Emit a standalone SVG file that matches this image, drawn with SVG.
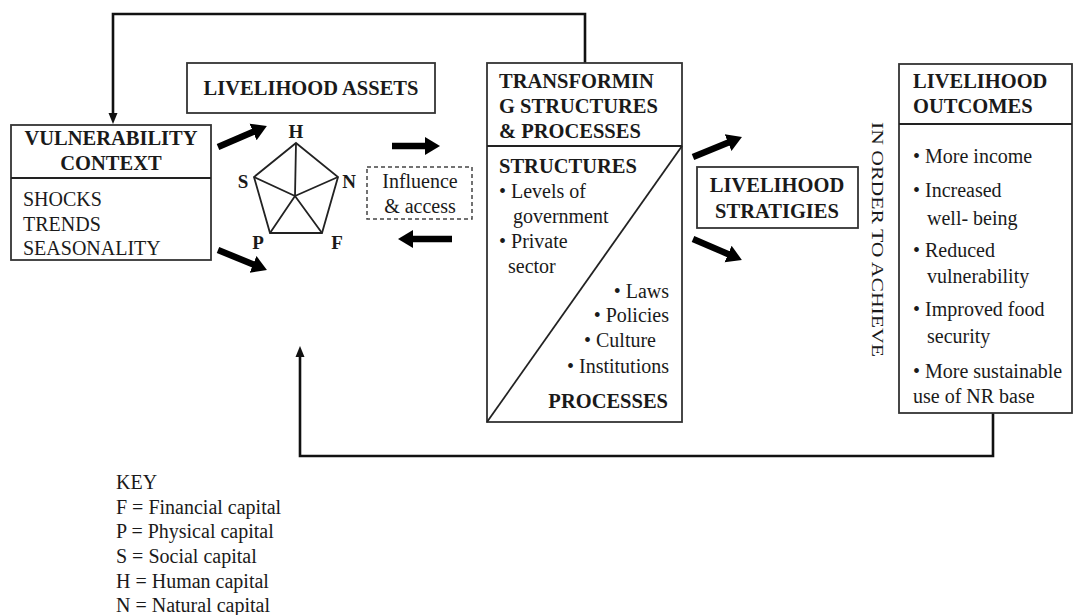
<svg xmlns="http://www.w3.org/2000/svg" width="1075" height="615" viewBox="0 0 1075 615">
<style>
text{font-family:"Liberation Serif","Times New Roman",serif;fill:#1a1a1a}
.b{font-weight:bold;font-size:20.5px}
.r{font-size:20px}
.lab{font-weight:bold;font-size:19px}
.box{fill:#fff;stroke:#333;stroke-width:1.8}
.ln{fill:none;stroke:#222;stroke-width:1.8}
.conn{fill:none;stroke:#111;stroke-width:2.6}
.thick{stroke:#000;stroke-width:6.5;marker-end:url(#big)}
.mid{text-anchor:middle}
.end{text-anchor:end}
</style>
<defs>
<marker id="big" markerUnits="userSpaceOnUse" markerWidth="16" markerHeight="20" refX="1" refY="10" orient="auto">
<path d="M0,1 L15,10 L0,19 z" fill="#000"/>
</marker>
<marker id="sm" markerUnits="userSpaceOnUse" markerWidth="12" markerHeight="10" refX="2" refY="5" orient="auto">
<path d="M0,0.5 L11,5 L0,9.5 z" fill="#111"/>
</marker>
</defs>
<rect width="1075" height="615" fill="#fff"/>

<g id="connectors">
<path class="conn" d="M585,63 V14 H113 V115" marker-end="url(#sm)"/>
<path class="conn" d="M993,413 V456 H300 V355" marker-end="url(#sm)"/>
<line class="thick" x1="218" y1="147" x2="254" y2="131.6"/>
<line class="thick" x1="218" y1="250" x2="254" y2="264.7"/>
<line class="thick" x1="392" y1="146" x2="426" y2="146"/>
<line class="thick" x1="452" y1="239" x2="412" y2="239"/>
<line class="thick" x1="693" y1="157" x2="729" y2="142.3"/>
<line class="thick" x1="693" y1="239" x2="729" y2="254.4"/>
</g>

<g id="vulnerability">
<rect class="box" x="11" y="125" width="200" height="135"/>
<line class="ln" x1="11" y1="178" x2="211" y2="178"/>
<text class="b mid" x="111" y="145">VULNERABILITY</text>
<text class="b mid" x="111" y="170">CONTEXT</text>
<text class="r" x="23" y="206">SHOCKS</text>
<text class="r" x="23" y="231">TRENDS</text>
<text class="r" x="23" y="255">SEASONALITY</text>
</g>

<g id="livelihood-assets">
<rect class="box" x="187" y="63" width="248" height="50"/>
<text class="b mid" x="311" y="95">LIVELIHOOD ASSETS</text>
</g>

<g id="pentagon">
<polygon class="ln" points="296,143 338,177 322,233 270,233 254,177"/>
<path class="ln" d="M295,196 L296,143 M295,196 L338,177 M295,196 L322,233 M295,196 L270,233 M295,196 L254,177"/>
<text class="lab mid" x="296" y="138">H</text>
<text class="lab mid" x="243" y="188">S</text>
<text class="lab mid" x="349" y="188">N</text>
<text class="lab mid" x="258" y="249">P</text>
<text class="lab mid" x="337" y="249">F</text>
</g>

<g id="influence">
<rect x="367" y="167" width="105" height="52" fill="#fff" stroke="#444" stroke-width="1.5" stroke-dasharray="4,3"/>
<text class="r mid" x="420" y="188">Influence</text>
<text class="r mid" x="420" y="213">&amp; access</text>
</g>

<g id="transforming">
<rect class="box" x="487" y="63" width="195" height="359"/>
<line class="ln" x1="487" y1="146" x2="682" y2="146"/>
<line class="ln" x1="682" y1="146" x2="487" y2="422"/>
<text class="b" x="499" y="88">TRANSFORMIN</text>
<text class="b" x="499" y="113">G STRUCTURES</text>
<text class="b" x="499" y="138">&amp; PROCESSES</text>
<text class="b" x="499" y="173">STRUCTURES</text>
<text class="r" x="499" y="198">• Levels of</text>
<text class="r" x="513" y="223">government</text>
<text class="r" x="499" y="248">• Private</text>
<text class="r" x="508" y="273">sector</text>
<text class="r end" x="669" y="298">• Laws</text>
<text class="r end" x="669" y="322">• Policies</text>
<text class="r end" x="656" y="347">• Culture</text>
<text class="r end" x="669" y="373">• Institutions</text>
<text class="b end" x="668" y="408">PROCESSES</text>
</g>

<g id="strategies">
<rect class="box" x="697" y="167" width="161" height="61"/>
<text class="b mid" x="777" y="192">LIVELIHOOD</text>
<text class="b mid" x="777" y="218">STRATIGIES</text>
</g>

<g id="in-order">
<text class="r" style="font-size:16px" transform="translate(872,122) rotate(90)" textLength="235" lengthAdjust="spacingAndGlyphs">IN ORDER TO ACHIEVE</text>
</g>

<g id="outcomes">
<rect class="box" x="899" y="64" width="173" height="349"/>
<line class="ln" x1="899" y1="124" x2="1072" y2="124"/>
<text class="b" x="913" y="88">LIVELIHOOD</text>
<text class="b" x="913" y="113">OUTCOMES</text>
<text class="r" x="913" y="163">• More income</text>
<text class="r" x="913" y="197">• Increased</text>
<text class="r" x="927" y="225">well- being</text>
<text class="r" x="913" y="257">• Reduced</text>
<text class="r" x="927" y="283">vulnerability</text>
<text class="r" x="913" y="316">• Improved food</text>
<text class="r" x="927" y="343">security</text>
<text class="r" x="913" y="378">• More sustainable</text>
<text class="r" x="913" y="403">use of NR base</text>
</g>

<g id="key">
<text class="r" x="116" y="489">KEY</text>
<text class="r" x="116" y="514">F = Financial capital</text>
<text class="r" x="116" y="538">P = Physical capital</text>
<text class="r" x="116" y="563">S = Social capital</text>
<text class="r" x="116" y="588">H = Human capital</text>
<text class="r" x="116" y="612">N = Natural capital</text>
</g>
</svg>
